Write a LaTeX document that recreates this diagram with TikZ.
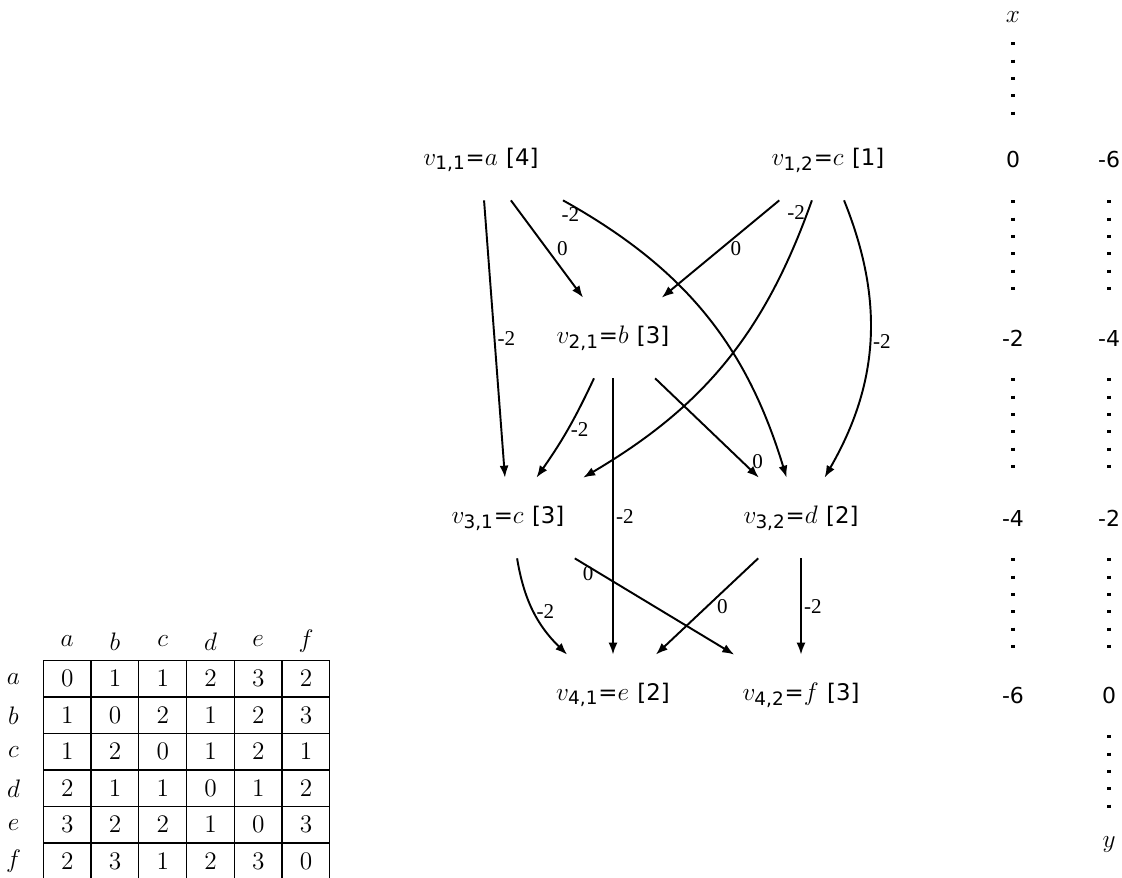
\documentclass[tikz,border=0pt]{standalone}
\usepackage{amsmath}
\usepackage{fontspec}
\setmainfont{DejaVu Sans}
\newfontfamily\lblfont{Liberation Serif}
\usetikzlibrary{arrows.meta, math}
\newcommand{\vsm}{\fontsize{13}{15}\selectfont}
\newcommand{\vlab}[3]{$v_{\text{#1}}${\vsm=}$#2$ {\vsm[#3]}}

\begin{document}
\begin{tikzpicture}[
vert/.style={minimum width=3.4cm, minimum height=1.6cm, inner sep=0pt, font=\fontsize{15}{17}\selectfont},
col/.style={minimum height=1.6cm, inner sep=0pt, font=\fontsize{12.5}{14}\selectfont},
axl/.style={minimum height=1cm, inner sep=0pt, font=\fontsize{15}{17}\selectfont},
lbl/.style={font=\lblfont\fontsize{12}{14}\selectfont, inner sep=1pt, text width=0.36cm, align=right},
edge/.style={-{Latex[length=2.4mm,width=1.8mm]}, line width=1.1pt},
dots/.style={line width=1.9pt, dash pattern=on 0.06cm off 0.286cm}
]
\tikzmath{
\ra=14.34; \rb=10.78; \rc=7.18; \rd=3.64;
\cx=20.26; \cy=22.18;
\tl=0.867; \tw=0.955; \th=0.73; \tt=4.33;
}
\useasboundingbox (0,0) rectangle (22.44,17.54);

%vertices of the layers
\node[vert] (v11) at (9.62,\ra) {\vlab{1,1}{a}{4}};
\node[vert] (v12) at (16.56,\ra) {\vlab{1,2}{c}{1}};
\node[vert] (v21) at (12.26,\rb) {\vlab{2,1}{b}{3}};
\node[vert] (v31) at (10.16,\rc) {\vlab{3,1}{c}{3}};
\node[vert] (v32) at (16.02,\rc) {\vlab{3,2}{d}{2}};
\node[vert] (v41) at (12.26,\rd) {\vlab{4,1}{e}{2}};
\node[vert] (v42) at (16.02,\rd) {\vlab{4,2}{f}{3}};

%weighted edges
\draw[edge] (v11) -- node[lbl,right] {-2} (v31);
\draw[edge] (v11) -- node[lbl,right] {0} (v21);
\draw[edge] (v11) to[bend left=22] node[lbl,below,pos=.02] {-2} (v32);
\draw[edge] (v12) -- node[lbl,right] {0} (v21);
\draw[edge] (v12) to[bend left=20] node[lbl,left,pos=.03] {-2} (v31);
\draw[edge] (v12) to[bend left=26] node[lbl,right] {-2} (v32);
\draw[edge] (v21) to[bend left=5] node[lbl,right] {-2} (v31);
\draw[edge] (v21) -- node[lbl,right] {-2} (v41);
\draw[edge] (v21) -- node[lbl,right,pos=.84] {0} (v32);
\draw[edge] (v31) to[bend right=18] node[lbl,right] {-2} (v41);
\draw[edge] (v31) -- node[lbl,below,pos=.06] {0} (v42);
\draw[edge] (v32) -- node[lbl,right] {0} (v41);
\draw[edge] (v32) -- node[lbl,right] {-2} (v42);

%x and y columns
\node[axl] (xl) at (\cx,17.2) {$x$};
\node[col] (x1) at (\cx,\ra) {0};
\node[col] (x2) at (\cx,\rb) {-2};
\node[col] (x3) at (\cx,\rc) {-4};
\node[col] (x4) at (\cx,\rd) {-6};
\node[col] (y1) at (\cy,\ra) {-6};
\node[col] (y2) at (\cy,\rb) {-4};
\node[col] (y3) at (\cy,\rc) {-2};
\node[col] (y4) at (\cy,\rd) {0};
\node[axl] (yl) at (\cy,0.64) {$y$};
\draw[dots] (xl) -- (x1);
\draw[dots] (x1) -- (x2);
\draw[dots] (x2) -- (x3);
\draw[dots] (x3) -- (x4);
\draw[dots] (y1) -- (y2);
\draw[dots] (y2) -- (y3);
\draw[dots] (y3) -- (y4);
\draw[dots] (y4) -- (yl);

%distance table
\draw[line width=0.7pt, xstep=\tw, ystep=\th, shift={(\tl,\tt-6*\th)}] (0,0) grid (6*\tw+0.001,6*\th+0.001);
\begin{scope}[font=\fontsize{15}{17}\selectfont]
\foreach \h [count=\j] in {a,b,c,d,e,f}
  \node (h\j) at (\tl+\tw*\j-\tw/2,4.71) {$\h$};
\foreach \r/\vals [count=\i] in {a/{0,1,1,2,3,2}, b/{1,0,2,1,2,3}, c/{1,2,0,1,2,1}, d/{2,1,1,0,1,2}, e/{3,2,2,1,0,3}, f/{2,3,1,2,3,0}}{
  \node (r\i) at (0.27,\tt-\th*\i+\th/2) {$\r$};
  \foreach \v [count=\j] in \vals
    \node (c\i\j) at (\tl+\tw*\j-\tw/2,\tt-\th*\i+\th/2) {$\v$};
}
\end{scope}
\end{tikzpicture}
\end{document}
